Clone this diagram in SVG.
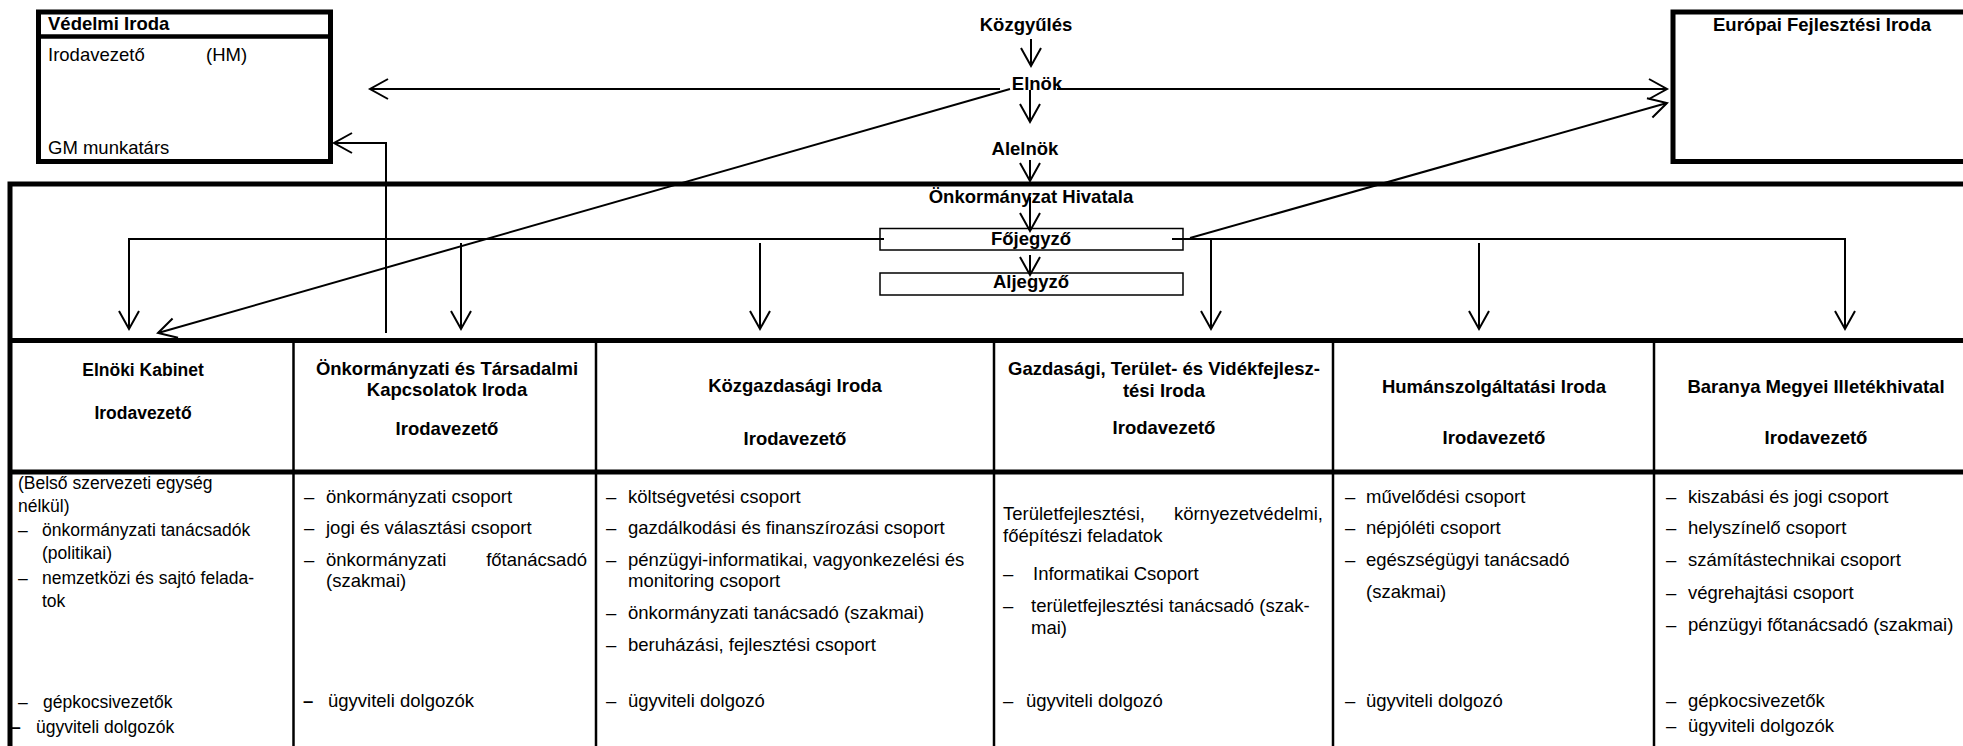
<svg xmlns="http://www.w3.org/2000/svg" width="1963" height="746" viewBox="0 0 1963 746">
<style>
.t{font-family:"Liberation Sans",Arial,sans-serif;font-size:18.5px;fill:#000}
.s{font-size:17.5px}
.b{font-weight:bold}
.m{text-anchor:middle}
.e{text-anchor:end}
.thick{stroke:#000;stroke-width:5;fill:none}
.thin{stroke:#000;stroke-width:2.5;fill:none}
.box{stroke:#000;stroke-width:1.5;fill:#fff}
.c{stroke:#000;stroke-width:2;fill:none}
.a{marker-end:url(#arr)}
</style>
<defs>
<marker id="arr" markerUnits="userSpaceOnUse" markerWidth="24" markerHeight="24" viewBox="-20 -12 24 24" refX="0" refY="0" orient="auto">
<path d="M-18,-10 L0,0 L-18,10" fill="none" stroke="#000" stroke-width="2"/>
</marker>
</defs>
<rect width="1963" height="746" fill="#fff"/>

<g id="vedelmi-iroda">
<rect x="38.5" y="12" width="292" height="149.5" class="thick"/>
<line x1="38.5" y1="36.5" x2="330.5" y2="36.5" stroke="#000" stroke-width="4.5"/>
<text class="t b" x="48" y="30">Védelmi Iroda</text>
<text class="t" x="48" y="61">Irodavezető</text>
<text class="t" x="206" y="61">(HM)</text>
<text class="t" x="48" y="154">GM munkatárs</text>
</g>

<g id="europai-fejlesztesi-iroda">
<rect x="1673" y="12" width="400" height="149.5" class="thick"/>
<text class="t b m" x="1822" y="31">Európai Fejlesztési Iroda</text>
</g>

<g id="kozgyules"><text class="t b m" x="1026" y="31">Közgyűlés</text></g>
<g id="elnok"><text class="t b m" x="1037" y="90">Elnök</text></g>
<g id="alelnok"><text class="t b m" x="1025" y="155">Alelnök</text></g>

<g id="onkormanyzat-hivatala">
<path d="M10,746 V184 H1970" class="thick"/>
<text class="t b m" x="1031" y="203">Önkormányzat Hivatala</text>
</g>

<g id="fojegyzo">
<rect x="880" y="228.5" width="303" height="21.5" class="box"/>
<text class="t b m" x="1031" y="245">Főjegyző</text>
</g>
<g id="aljegyzo">
<rect x="880" y="273" width="303" height="22" class="box"/>
<text class="t b m" x="1031" y="288">Aljegyző</text>
</g>

<g id="table-grid">
<line x1="10" y1="340.5" x2="1963" y2="340.5" class="thick"/>
<line x1="10" y1="472" x2="1963" y2="472" class="thick"/>
<line x1="293.5" y1="340" x2="293.5" y2="746" class="thin"/>
<line x1="596" y1="340" x2="596" y2="746" class="thin"/>
<line x1="994" y1="340" x2="994" y2="746" class="thin"/>
<line x1="1333" y1="340" x2="1333" y2="746" class="thin"/>
<line x1="1654" y1="340" x2="1654" y2="746" class="thin"/>
</g>

<g id="elnoki-kabinet">
<text class="t s b m" x="143" y="376">Elnöki Kabinet</text>
<text class="t s b m" x="143" y="419">Irodavezető</text>
<text class="t s" x="18" y="489">(Belső szervezeti egység</text>
<text class="t s" x="18" y="512">nélkül)</text>
<text class="t s" x="18" y="536">–</text>
<text class="t s" x="42" y="536">önkormányzati tanácsadók</text>
<text class="t s" x="42" y="559">(politikai)</text>
<text class="t s" x="18" y="584">–</text>
<text class="t s" x="42" y="584">nemzetközi és sajtó felada-</text>
<text class="t s" x="42" y="607">tok</text>
<text class="t s" x="18" y="708">–</text>
<text class="t s" x="43" y="708">gépkocsivezetők</text>
<text class="t s b" x="11" y="733">–</text>
<text class="t s" x="36" y="733">ügyviteli dolgozók</text>
</g>

<g id="onkormanyzati-tarsadalmi-kapcsolatok">
<text class="t b m" x="447" y="375">Önkormányzati és Társadalmi</text>
<text class="t b m" x="447" y="396">Kapcsolatok Iroda</text>
<text class="t b m" x="447" y="435">Irodavezető</text>
<text class="t" x="304" y="503">–</text>
<text class="t" x="326" y="503">önkormányzati csoport</text>
<text class="t" x="304" y="534">–</text>
<text class="t" x="326" y="534">jogi és választási csoport</text>
<text class="t" x="304" y="566">–</text>
<text class="t" x="326" y="566">önkormányzati</text>
<text class="t e" x="587" y="566">főtanácsadó</text>
<text class="t" x="326" y="587">(szakmai)</text>
<text class="t b" x="303" y="707">–</text>
<text class="t" x="328" y="707">ügyviteli dolgozók</text>
</g>

<g id="kozgazdasagi-iroda">
<text class="t b m" x="795" y="392">Közgazdasági Iroda</text>
<text class="t b m" x="795" y="445">Irodavezető</text>
<text class="t" x="606" y="503">–</text>
<text class="t" x="628" y="503">költségvetési csoport</text>
<text class="t" x="606" y="534">–</text>
<text class="t" x="628" y="534">gazdálkodási és finanszírozási csoport</text>
<text class="t" x="606" y="566">–</text>
<text class="t" x="628" y="566">pénzügyi-informatikai, vagyonkezelési és</text>
<text class="t" x="628" y="587">monitoring csoport</text>
<text class="t" x="606" y="619">–</text>
<text class="t" x="628" y="619">önkormányzati tanácsadó (szakmai)</text>
<text class="t" x="606" y="651">–</text>
<text class="t" x="628" y="651">beruházási, fejlesztési csoport</text>
<text class="t" x="606" y="707">–</text>
<text class="t" x="628" y="707">ügyviteli dolgozó</text>
</g>

<g id="gazdasagi-teruletfejlesztesi-iroda">
<text class="t b m" x="1164" y="375">Gazdasági, Terület- és Vidékfejlesz-</text>
<text class="t b m" x="1164" y="397">tési Iroda</text>
<text class="t b m" x="1164" y="434">Irodavezető</text>
<text class="t" x="1003" y="520">Területfejlesztési,</text>
<text class="t e" x="1323" y="520">környezetvédelmi,</text>
<text class="t" x="1003" y="542">főépítészi feladatok</text>
<text class="t" x="1003" y="580">–</text>
<text class="t" x="1033" y="580">Informatikai Csoport</text>
<text class="t" x="1003" y="612">–</text>
<text class="t" x="1031" y="612">területfejlesztési tanácsadó (szak-</text>
<text class="t" x="1031" y="634">mai)</text>
<text class="t" x="1003" y="707">–</text>
<text class="t" x="1026" y="707">ügyviteli dolgozó</text>
</g>

<g id="humanszolgaltatasi-iroda">
<text class="t b m" x="1494" y="393">Humánszolgáltatási Iroda</text>
<text class="t b m" x="1494" y="444">Irodavezető</text>
<text class="t" x="1345" y="503">–</text>
<text class="t" x="1366" y="503">művelődési csoport</text>
<text class="t" x="1345" y="534">–</text>
<text class="t" x="1366" y="534">népjóléti csoport</text>
<text class="t" x="1345" y="566">–</text>
<text class="t" x="1366" y="566">egészségügyi tanácsadó</text>
<text class="t" x="1366" y="598">(szakmai)</text>
<text class="t" x="1345" y="707">–</text>
<text class="t" x="1366" y="707">ügyviteli dolgozó</text>
</g>

<g id="baranya-megyei-illetekhivatal">
<text class="t b m" x="1816" y="393">Baranya Megyei Illetékhivatal</text>
<text class="t b m" x="1816" y="444">Irodavezető</text>
<text class="t" x="1666" y="503">–</text>
<text class="t" x="1688" y="503">kiszabási és jogi csoport</text>
<text class="t" x="1666" y="534">–</text>
<text class="t" x="1688" y="534">helyszínelő csoport</text>
<text class="t" x="1666" y="566">–</text>
<text class="t" x="1688" y="566">számítástechnikai csoport</text>
<text class="t" x="1666" y="599">–</text>
<text class="t" x="1688" y="599">végrehajtási csoport</text>
<text class="t" x="1666" y="631">–</text>
<text class="t" x="1688" y="631">pénzügyi főtanácsadó (szakmai)</text>
<text class="t" x="1666" y="707">–</text>
<text class="t" x="1688" y="707">gépkocsivezetők</text>
<text class="t" x="1666" y="732">–</text>
<text class="t" x="1688" y="732">ügyviteli dolgozók</text>
</g>

<g id="connectors">
<line x1="1031" y1="39" x2="1031" y2="66" class="c a"/>
<line x1="1030" y1="90" x2="1030" y2="122" class="c a"/>
<line x1="1030" y1="160" x2="1030" y2="181" class="c a"/>
<line x1="1030" y1="197" x2="1030" y2="231" class="c a"/>
<line x1="1030" y1="255" x2="1030" y2="275" class="c a"/>
<line x1="1000" y1="89" x2="370" y2="89" class="c a"/>
<line x1="1057" y1="89" x2="1667" y2="89" class="c a"/>
<line x1="1010" y1="89" x2="158" y2="333" class="c a"/>
<line x1="1190" y1="238" x2="1667" y2="103" class="c a"/>
<polyline points="386,333 386,143 334,143" class="c a"/>
<polyline points="884,239 129,239 129,329" class="c a"/>
<polyline points="1172,239 1845,239 1845,329" class="c a"/>
<line x1="461" y1="243" x2="461" y2="329" class="c a"/>
<line x1="760" y1="243" x2="760" y2="329" class="c a"/>
<line x1="1211" y1="239" x2="1211" y2="329" class="c a"/>
<line x1="1479" y1="243" x2="1479" y2="329" class="c a"/>
</g>
</svg>
